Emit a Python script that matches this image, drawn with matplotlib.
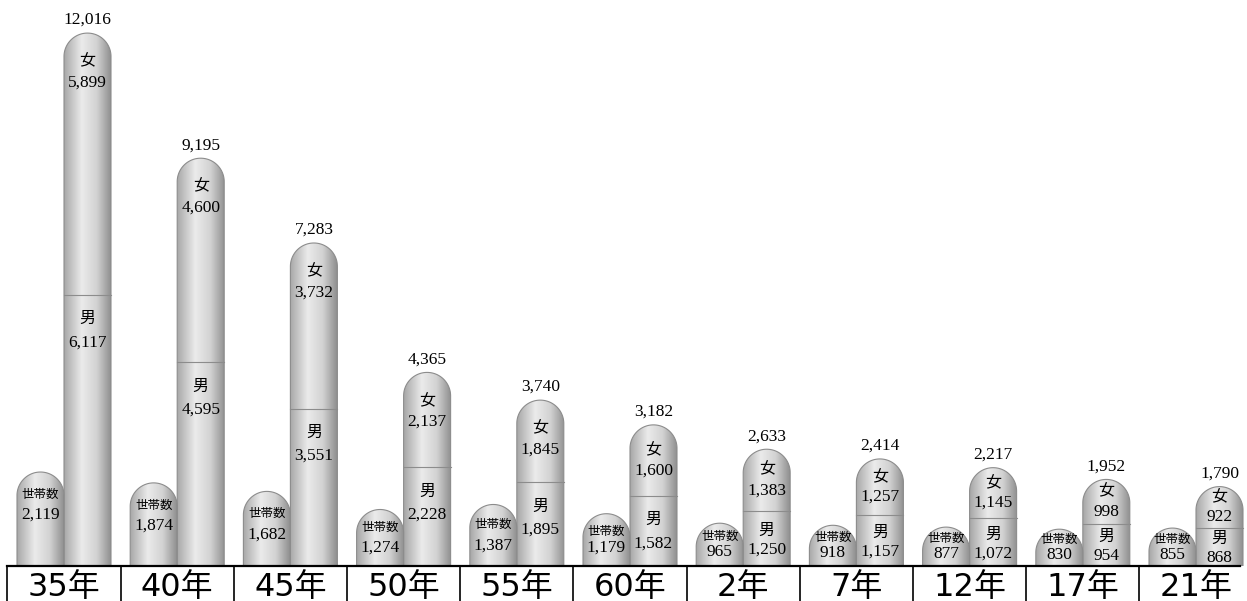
import numpy as np
import matplotlib.pyplot as plt
from matplotlib.path import Path
from matplotlib.patches import PathPatch
from matplotlib.colors import LinearSegmentedColormap

years = ['35年', '40年', '45年', '50年', '55年', '60年', '2年', '7年', '12年', '17年', '21年']
households = [2119, 1874, 1682, 1274, 1387, 1179, 965, 918, 877, 830, 855]
male = [6117, 4595, 3551, 2228, 1895, 1582, 1250, 1157, 1072, 954, 868]
female = [5899, 4600, 3732, 2137, 1845, 1600, 1383, 1257, 1145, 998, 922]
totals = [12016, 9195, 7283, 4365, 3740, 3182, 2633, 2414, 2217, 1952, 1790]

W, H = 1247, 601
base_px = 566          # baseline in pixels from top
sy = 0.04435           # pixels per person
sx = 113.2             # pixels per group
xmin = -64 / sx
w = 47 / sx            # bar width (data)
r_px = 23.5            # cap radius in pixels
ry = r_px / sy
rx = w / 2

serif = ['Liberation Serif', 'Noto Sans CJK JP']
cmap = LinearSegmentedColormap.from_list(
    'bar', [(0, '#a8a8a8'), (0.38, '#ebebeb'), (0.7, '#d2d2d2'), (1, '#909090')])
grad = np.linspace(0, 1, 200).reshape(1, -1)

fig = plt.figure(figsize=(W / 100, H / 100), dpi=100)
ax = fig.add_axes([0, (H - base_px) / H, 1, base_px / H])


def px(v):
    # pixel distance -> data units on y
    return v / sy


def capsule(x0, h):
    body = max(h - ry, 0)
    t = np.linspace(0, np.pi, 80)
    cx = x0 + w / 2
    verts = [(x0, 0), (x0 + w, 0), (x0 + w, body)]
    verts += list(zip(cx + rx * np.cos(t), body + ry * np.sin(t)))
    verts += [(x0, 0)]
    patch = PathPatch(Path(verts, closed=True), facecolor='none',
                      edgecolor='#8c8c8c', lw=0.8, zorder=3)
    ax.add_patch(patch)
    im = ax.imshow(grad, extent=[x0, x0 + w, 0, h], aspect='auto',
                   cmap=cmap, zorder=2, interpolation='bilinear')
    im.set_clip_path(patch)


def pair(cx, center_px, gap_px, label, value, lsize, vsize=12.5):
    # label above, number below, centred on center_px (pixels above base)
    ax.text(cx, px(center_px + gap_px / 2), label, ha='center', va='center',
            fontsize=lsize, family=serif, zorder=5)
    ax.text(cx, px(center_px - gap_px / 2), f'{value:,}', ha='center',
            va='center', fontsize=vsize, family=serif, zorder=5)


for i in range(len(years)):
    # households bar
    hx = i - w
    capsule(hx, households[i])
    top = households[i] * sy
    pair(hx + w / 2, max(top / 2, top - 33), 20 if top > 55 else 15,
         '世帯数', households[i], 9)

    # population bar (male + female)
    capsule(i, totals[i])
    ax.plot([i, i + w], [male[i], male[i]], color='#8c8c8c', lw=0.8, zorder=4)
    cx = i + w / 2
    top = totals[i] * sy
    split = male[i] * sy
    ax.text(cx, px(top + 13), f'{totals[i]:,}', ha='center', va='center',
            fontsize=12.5, family=serif, zorder=5)
    fc = max((top + split) / 2, top - 39)
    pair(cx, fc, 21 if top - split > 60 else 20, '女', female[i], 11.5)
    mc = max(split / 2 - 2, split - 36)
    pair(cx, mc, 23 if split > 70 else 19, '男', male[i], 11.5)

    # category label
    ax.text(i, -px(30), years[i], ha='center', va='baseline', fontsize=23,
            family=['DejaVu Sans', 'Noto Sans CJK JP'], clip_on=False)

# bottom box
right = (1240 - 64) / sx
ax.plot([-0.5, right], [0, 0], color='black', lw=1.6, clip_on=False, zorder=6)
for b in np.arange(-0.5, 10, 1.0):
    ax.plot([b, b], [0, -px(40)], color='black', lw=1.2, clip_on=False, zorder=6)

ax.set_xlim(xmin, xmin + W / sx)
ax.set_ylim(0, base_px / sy)
ax.axis('off')

fig.savefig('out.png', dpi=100)
